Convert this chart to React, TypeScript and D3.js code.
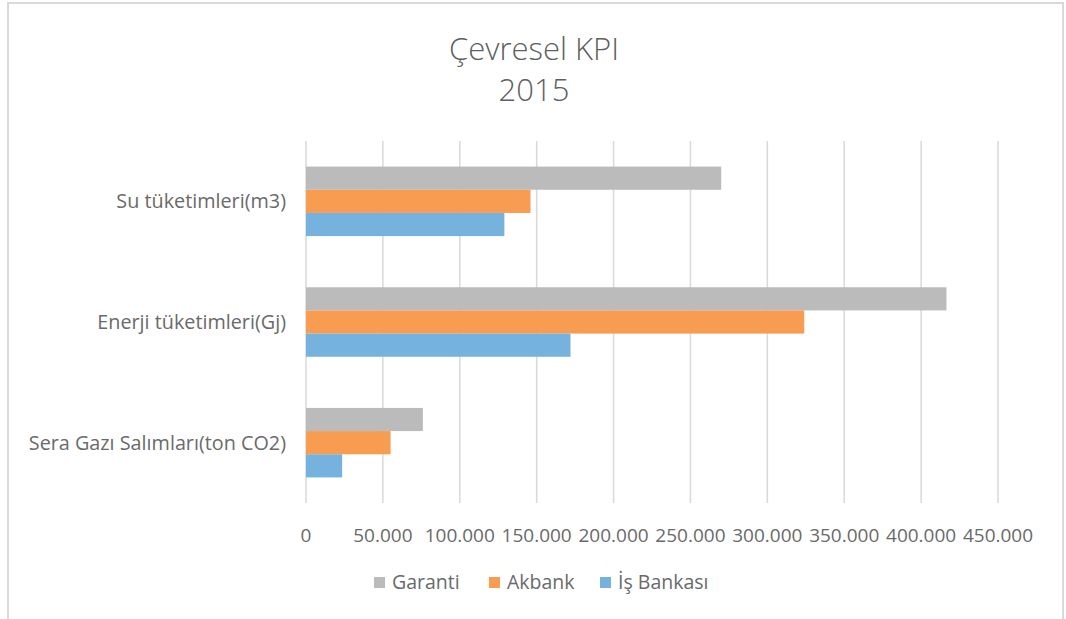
import React from "react";
import * as d3 from "d3";

const categories = ["Su tüketimleri(m3)", "Enerji tüketimleri(Gj)", "Sera Gazı Salımları(ton CO2)"];
const seriesNames = ["Garanti", "Akbank", "İş Bankası"];
const garanti = [270000, 416500, 76000];
const akbank = [146000, 324000, 55000];
const isBankasi = [129000, 172000, 23500];
const tickValues = [0, 50000, 100000, 150000, 200000, 250000, 300000, 350000, 400000, 450000];
const colors = ["#BBBBBB", "#F79C51", "#75B2DE"];
const titleLines = ["Çevresel KPI", "2015"];

const W = 1066;
const H = 619;
const FONT = "'Open Sans', 'Noto Sans', sans-serif";
const TEXT = "#5f5f5f";
const LABEL = "#6a6a6a";
const GRID = "#D9D9D9";

export default function App() {
  const series = [garanti, akbank, isBankasi];
  const x = d3.scaleLinear().domain([0, 450000]).range([306, 998]);
  const y = d3
    .scaleBand<string>()
    .domain(categories)
    .range([141, 503])
    .paddingInner(0.424)
    .paddingOuter(0.212);
  const y1 = d3.scaleBand<string>().domain(seriesNames).range([0, y.bandwidth()]);
  const fmt = d3
    .formatLocale({ decimal: ",", thousands: ".", grouping: [3], currency: ["", ""] })
    .format(",");

  const legendX = [374, 489, 600];

  return (
    <svg
      width={W}
      height={H}
      style={{ position: "absolute", left: 0, top: 0, background: "#fff" }}
      fontFamily={FONT}
    >
      <rect x={0} y={0} width={W} height={H} fill="#fff" />
      <rect x={8} y={3} width={1055} height={H + 10} fill="#fff" stroke={GRID} strokeWidth={2} />
      {titleLines.map((t, i) => (
        <text
          key={t}
          x={534}
          y={60 + i * 41}
          textAnchor="middle"
          fontSize={31}
          fontWeight={300}
          fill={TEXT}
        >
          {t}
        </text>
      ))}
      {tickValues.map((v) => (
        <line key={"g" + v} x1={x(v)} x2={x(v)} y1={141} y2={503} stroke={GRID} strokeWidth={1.5} />
      ))}
      {categories.map((c, ci) => (
        <g key={c} transform={`translate(0,${y(c)})`}>
          {seriesNames.map((s, si) => (
            <rect
              key={s}
              x={x(0)}
              y={y1(s)}
              width={x(series[si][ci]) - x(0)}
              height={y1.bandwidth()}
              fill={colors[si]}
            />
          ))}
        </g>
      ))}
      {categories.map((c) => (
        <text
          key={"l" + c}
          x={286}
          y={(y(c) as number) + y.bandwidth() / 2}
          dy="0.35em"
          textAnchor="end"
          fontSize={19.8}
          fill={LABEL}
        >
          {c}
        </text>
      ))}
      {tickValues.map((v) => (
        <text key={"t" + v} x={x(v)} y={542} textAnchor="middle" fontSize={19} fill={LABEL}>
          {fmt(v)}
        </text>
      ))}
      {seriesNames.map((s, i) => (
        <g key={"lg" + s} transform={`translate(${legendX[i]},577)`}>
          <rect x={0} y={0} width={11} height={11} fill={colors[i]} />
          <text x={18} y={12} fontSize={19.5} fill={LABEL}>
            {s}
          </text>
        </g>
      ))}
    </svg>
  );
}
